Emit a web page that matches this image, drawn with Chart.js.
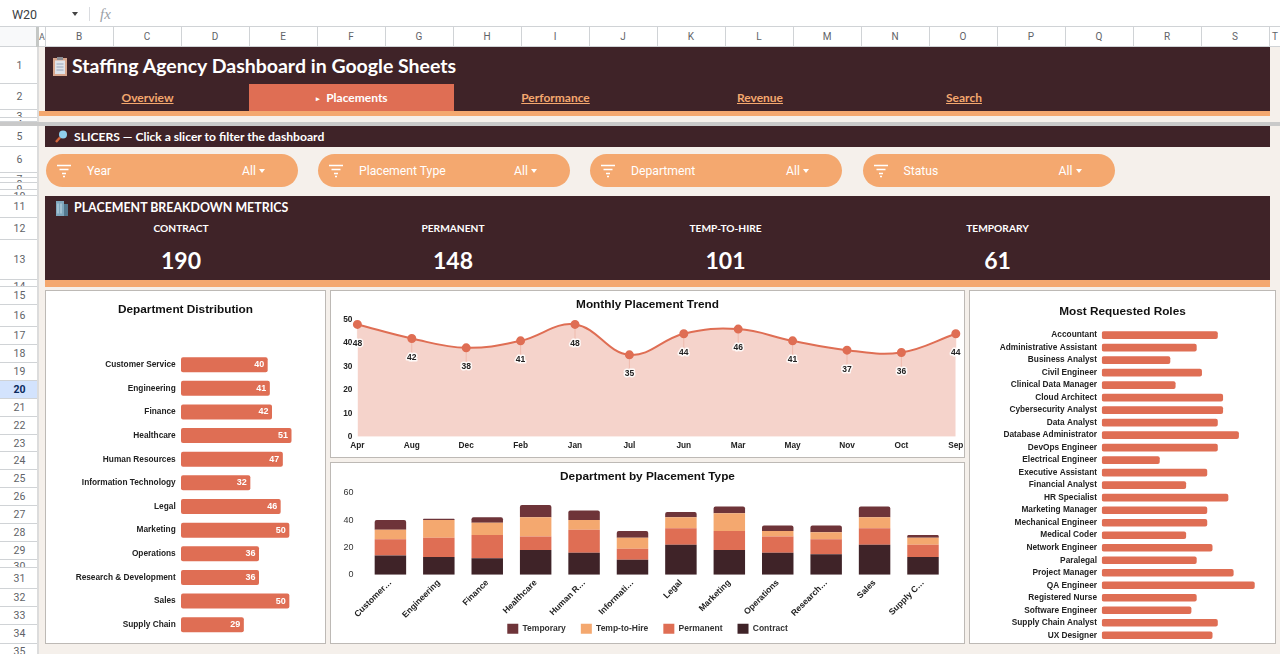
<!DOCTYPE html>
<html><head><meta charset="utf-8">
<script src="https://cdn.jsdelivr.net/npm/chart.js@4"></script>
<style>
html,body{margin:0;padding:0;width:1280px;height:654px;overflow:hidden;background:#f5f0eb;font-family:Lato,Roboto,sans-serif}
.a{position:absolute;box-sizing:border-box}
.t{position:absolute;white-space:nowrap;line-height:1}
.c{transform:translateX(-50%)}
.box{position:absolute;box-sizing:border-box;background:#fff;border:1px solid #bdb9b5}
.box canvas{position:absolute;left:0;top:0}
.rh{position:absolute;left:0;width:39px;box-sizing:border-box;overflow:hidden;text-align:center;font:10.5px Roboto,sans-serif;color:#5f6368;background:#fff;border-bottom:1px solid #d0d3d6}
.ch{position:absolute;top:27px;height:20px;box-sizing:border-box;text-align:center;font:10px/20px Roboto,sans-serif;color:#5f6368;background:#fff;border-right:1px solid #d0d3d6;border-bottom:1px solid #d0d3d6}
.pill{position:absolute;top:154px;height:33px;width:252px;border-radius:17px;background:#f4a86f}
.pill span{position:absolute;top:10px;color:#fff;font:400 12.2px/14px Roboto,sans-serif;white-space:nowrap}
.pill i{position:absolute;top:15px;left:213px;width:0;height:0;border:3.5px solid transparent;border-top:4px solid #fff;border-bottom:0}
.pill svg{position:absolute;left:10px;top:9px}
.lnk{color:#f4a86f;font-weight:700;font-size:12px;text-decoration:underline;font-family:Lato,Roboto,sans-serif}
</style></head><body>
<div id="sheet"></div>
<div class="box" style="left:45px;top:290px;width:281px;height:354px"><canvas id="deptChart"></canvas></div>
<div class="box" style="left:330px;top:290px;width:635px;height:168px"><canvas id="trendChart"></canvas></div>
<div class="box" style="left:330px;top:462px;width:635px;height:182px"><canvas id="stackChart"></canvas></div>
<div class="box" style="left:969px;top:290px;width:307px;height:354px"><canvas id="roleChart"></canvas></div>
<script>
// ---------- data ----------
const departments = ["Customer Service","Engineering","Finance","Healthcare","Human Resources","Information Technology","Legal","Marketing","Operations","Research & Development","Sales","Supply Chain"];
const departmentTotals = [40,41,42,51,47,32,46,50,36,36,50,29];
const months = ["Apr","Aug","Dec","Feb","Jan","Jul","Jun","Mar","May","Nov","Oct","Sep"];
const monthlyPlacements = [48,42,38,41,48,35,44,46,41,37,36,44];
const stackTickLabels = ["Customer…","Engineering","Finance","Healthcare","Human R…","Informati…","Legal","Marketing","Operations","Research…","Sales","Supply C…"];
const contractValues = [14,13,12,18,16,11,22,18,16,15,22,13];
const permanentValues = [12,14,17,10,17,8,12,14,12,11,12,9];
const tempToHireValues = [7,13,9,14,7,8,8,13,4,5,8,5];
const temporaryValues = [7,1,4,9,7,5,4,5,4,5,8,2];
const roles = ["Accountant","Administrative Assistant","Business Analyst","Civil Engineer","Clinical Data Manager","Cloud Architect","Cybersecurity Analyst","Data Analyst","Database Administrator","DevOps Engineer","Electrical Engineer","Executive Assistant","Financial Analyst","HR Specialist","Marketing Manager","Mechanical Engineer","Medical Coder","Network Engineer","Paralegal","Project Manager","QA Engineer","Registered Nurse","Software Engineer","Supply Chain Analyst","UX Designer"];
const roleCounts = [22,18,13,19,14,23,23,22,26,22,11,20,16,24,20,20,16,21,18,25,29,18,17,22,21];
const metricNames = ["CONTRACT","PERMANENT","TEMP-TO-HIRE","TEMPORARY"];
const metricValues = ["190","148","101","61"];
const slicerNames = ["Year","Placement Type","Department","Status"];
const navLinks = ["Overview","Performance","Revenue","Search"];
const columnLetters = "BCDEFGHIJKLMNOPQRS".split("");
const rowSpans = [["1",47,84],["2",84,110],["3",110,118],["4",118,122],["5",126,147],["6",147,173],["7",173,178],["8",178,183],["9",183,190],["10",190,196],["11",196,218],["12",218,240],["13",240,280],["14",280,287],["15",287,304.5],["16",304.5,326.5],["17",326.5,344.5],["18",344.5,362.5],["19",362.5,380.5],["20",380.5,398.5],["21",398.5,416.5],["22",416.5,434.5],["23",434.5,452],["24",452,470],["25",470,488],["26",488,506],["27",506,524],["28",524,542],["29",542,559.5],["30",559.5,568],["31",568,589],["32",589,607],["33",607,625],["34",625,643.5],["35",643.5,660]];

// ---------- colours ----------
const DARK="#3f2328", ORANGE="#f4a86f", CORAL="#df6e54", MAROON="#6e3439";

// ---------- sheet chrome ----------
const sheet=document.getElementById("sheet");
function add(html){sheet.insertAdjacentHTML("beforeend",html);}
add(`<div class="a" style="left:0;top:0;width:1280px;height:27px;background:#fff;border-bottom:1px solid #d0d3d6"></div>`);
add(`<div class="t" style="left:12px;top:7px;font:12.5px Roboto,sans-serif;color:#3c4043">W20</div>`);
add(`<div class="a" style="left:72px;top:12px;width:0;height:0;border:3.5px solid transparent;border-top:4px solid #444;border-bottom:0"></div>`);
add(`<div class="a" style="left:89px;top:7px;width:1px;height:14px;background:#dadce0"></div>`);
add(`<div class="t" style="left:100px;top:6px;font:italic 15px 'Liberation Serif',serif;color:#9aa0a6">fx</div>`);
add(`<div class="a" style="left:0;top:27px;width:39px;height:20px;background:#f8f9fa;border-bottom:1px solid #d0d3d6"></div>`);
add(`<div class="a" style="left:36px;top:27px;width:3px;height:20px;background:#c4c7c5"></div>`);
add(`<div class="ch" style="left:39px;width:6.5px;overflow:hidden;font-size:9px">A</div>`);
columnLetters.forEach((L,i)=>add(`<div class="ch" style="left:${45.5+i*68}px;width:68px">${L}</div>`));
add(`<div class="ch" style="left:1269.5px;width:11px;border-right:0">T</div>`);
rowSpans.forEach(([n,a,b])=>{
  const on=n==="20";
  add(`<div class="rh" style="top:${a}px;height:${b-a}px;line-height:${Math.max(b-a,14)}px;${on?"background:#d3e3fd;color:#0b2a5e;font-weight:700;":""}">${n}</div>`);
});
add(`<div class="a" style="left:36.5px;top:47px;width:2.5px;height:607px;background:#dcdcdc"></div>`);
add(`<div class="a" style="left:0;top:122px;width:1280px;height:4px;background:#c9c9c9"></div>`);

// bands
add(`<div class="a" style="left:45px;top:47px;width:1224.5px;height:63.5px;background:${DARK}"></div>`);
add(`<div class="a" style="left:39px;top:110.5px;width:1230.5px;height:5.5px;background:${ORANGE}"></div>`);
add(`<div class="a" style="left:249px;top:83.5px;width:204.5px;height:27px;background:${CORAL}"></div>`);
add(`<div class="a" style="left:45px;top:126px;width:1224.5px;height:21px;background:${DARK}"></div>`);
add(`<div class="a" style="left:45px;top:196px;width:1224.5px;height:84px;background:${DARK}"></div>`);
add(`<div class="a" style="left:45px;top:280px;width:1224.5px;height:6.5px;background:${ORANGE}"></div>`);

// icons
add(`<svg class="a" style="left:52px;top:57px" width="16" height="19"><rect x="1" y="1" width="14" height="18" fill="#d9a78e"/><rect x="3" y="3.5" width="10" height="13.5" fill="#dfe3ea"/><rect x="5" y="0" width="6" height="3" fill="#8b8d94"/><path d="M4.5 7h7M4.5 10h7M4.5 13h7" stroke="#9aa7bd" stroke-width="1"/></svg>`);
add(`<svg class="a" style="left:54px;top:129px" width="14" height="15"><circle cx="9" cy="5.5" r="4" fill="#8fd0ee"/><path d="M6 8.5L2 13" stroke="#d4663c" stroke-width="2.4"/></svg>`);
add(`<svg class="a" style="left:55px;top:201px" width="14" height="15"><rect x="1" y="0" width="8" height="15" fill="#7fa7bd"/><rect x="9" y="3" width="4" height="12" fill="#54798f"/><path d="M3 2.5v10M6 2.5v10" stroke="#c6dbe6" stroke-width="1"/></svg>`);

// title and tabs
add(`<div class="t" style="left:72px;top:54px;font:700 19.5px Lato,sans-serif;color:#fff">Staffing Agency Dashboard in Google Sheets</div>`);
[147.5,555.5,760,964].forEach((x,i)=>add(`<div class="t c lnk" style="left:${x}px;top:91.5px">${navLinks[i]}</div>`));
add(`<div class="t c" style="left:352px;top:90px;font:700 12px Lato,sans-serif;color:#fff"><span style="font-size:7px;vertical-align:1.5px">▸</span>&nbsp; Placements</div>`);
add(`<div class="t" style="left:74px;top:128.5px;font:700 12.1px Lato,sans-serif;color:#fff">SLICERS — Click a slicer to filter the dashboard</div>`);
[46,318,590,862.5].forEach((x,i)=>add(`<div class="pill" style="left:${x}px"><svg width="16" height="15"><path d="M1 2.5h14M3.5 6.5h9M6 10.5h4M7 13.5h2" stroke="#fff" stroke-width="1.6"/></svg><span style="left:41px">${slicerNames[i]}</span><span style="left:196px">All</span><i></i></div>`));
add(`<div class="t" style="left:74px;top:199.5px;font:700 12.4px Lato,sans-serif;color:#fff">PLACEMENT BREAKDOWN METRICS</div>`);
[181,453,725.5,997.5].forEach((x,i)=>{
  add(`<div class="t c" style="left:${x}px;top:222px;font:700 10.2px Lato,sans-serif;color:#fff">${metricNames[i]}</div>`);
  add(`<div class="t c" style="left:${x}px;top:246px;font:700 23px Lato,sans-serif;color:#fff">${metricValues[i]}</div>`);
});

// ---------- charts ----------
Chart.defaults.font.family='"Liberation Sans",Arial,sans-serif';
Chart.defaults.animation=false;
Chart.defaults.responsive=false;
const axisFont={size:8.3,weight:"bold"};
const noGrid={display:false,drawTicks:false};
function sized(id,w,h){const c=document.getElementById(id);c.width=w;c.height=h;c.style.width=w+"px";c.style.height=h+"px";return c;}
// fixes an axis to a given thickness and lets its labels run past that box
function fixAxis(prop,size){return s=>{s[prop]=size;s.paddingTop=0;s.paddingBottom=0;s.paddingLeft=0;s.paddingRight=0;s._computeLabelArea=()=>undefined;};}

const barValueLabels={id:"barValueLabels",afterDatasetsDraw(chart){
  const ctx=chart.ctx,meta=chart.getDatasetMeta(0);
  ctx.save();ctx.font='bold 9px "Liberation Sans"';ctx.fillStyle="#fff";ctx.textAlign="right";ctx.textBaseline="middle";
  meta.data.forEach((el,i)=>ctx.fillText(chart.data.datasets[0].data[i],el.x-3.5,el.y));
  ctx.restore();
}};
const pointValueLabels={id:"pointValueLabels",afterDatasetsDraw(chart){
  const ctx=chart.ctx,meta=chart.getDatasetMeta(0);
  ctx.save();ctx.font='bold 8.5px "Liberation Sans"';ctx.textAlign="center";ctx.textBaseline="middle";ctx.lineJoin="round";
  meta.data.forEach((el,i)=>{
    ctx.strokeStyle="rgba(223,110,84,.35)";ctx.lineWidth=.7;ctx.beginPath();ctx.moveTo(el.x,el.y+4);ctx.lineTo(el.x,el.y+14);ctx.stroke();
    ctx.strokeStyle="rgba(255,255,255,.85)";ctx.lineWidth=3;ctx.strokeText(chart.data.datasets[0].data[i],el.x,el.y+19);
    ctx.fillStyle="#222";ctx.fillText(chart.data.datasets[0].data[i],el.x,el.y+19);
  });
  ctx.restore();
}};
function titleOpt(text,top,bottom){return {display:true,text,color:"#111",font:{size:11.8,weight:"bold"},padding:{top,bottom}};}

function hbar(id,w,h,title,labels,values,maxV,yWidth,side,bottom,tickPad,tTop,tBottom,barPct,plugins){
  return new Chart(sized(id,w,h),{type:"bar",
    data:{labels,datasets:[{data:values,backgroundColor:CORAL,borderRadius:2,borderSkipped:false,barPercentage:barPct,categoryPercentage:1}]},
    options:{indexAxis:"y",layout:{padding:{left:side,right:side,top:0,bottom}},
      plugins:{legend:{display:false},tooltip:{enabled:false},title:titleOpt(title,tTop,tBottom)},
      scales:{
        x:{display:false,min:0,max:maxV},
        y:{afterFit:fixAxis("width",yWidth),grid:noGrid,border:{display:false},
           ticks:{autoSkip:false,color:"#222",font:axisFont,padding:tickPad}}
      }},plugins});
}
// Department Distribution
hbar("deptChart",279,352,"Department Distribution",departments,departmentTotals,60,121,14,6.5,5.3,12,35.7,.635,[barValueLabels]);
// Most Requested Roles
hbar("roleChart",305,352,"Most Requested Roles",roles,roleCounts,30,116.7,15,1.5,4.7,13.8,9.9,.61,[]);

// Monthly Placement Trend
new Chart(sized("trendChart",633,166),{type:"line",
  data:{labels:months,datasets:[{data:monthlyPlacements,borderColor:CORAL,borderWidth:2,backgroundColor:"rgba(223,110,84,.3)",fill:true,tension:.4,pointBackgroundColor:CORAL,pointBorderColor:CORAL,pointRadius:3.5,clip:false}]},
  options:{layout:{padding:{left:8.2,right:8.2,top:0,bottom:0}},
    plugins:{legend:{display:false},tooltip:{enabled:false},title:titleOpt("Monthly Placement Trend",7,7.6)},
    scales:{
      x:{offset:false,grid:noGrid,border:{display:false},afterFit:fixAxis("height",20.3),ticks:{autoSkip:false,maxRotation:0,color:"#222",font:axisFont,padding:4}},
      y:{min:0,max:50,afterFit:fixAxis("width",18.2),grid:noGrid,border:{display:false},ticks:{stepSize:10,color:"#222",font:axisFont,padding:5}}
    }},plugins:[pointValueLabels]});

// Department by Placement Type
const stackSets=[["Contract",contractValues,DARK],["Permanent",permanentValues,CORAL],["Temp-to-Hire",tempToHireValues,ORANGE],["Temporary",temporaryValues,MAROON]];
new Chart(sized("stackChart",633,180),{type:"bar",
  data:{labels:departments,datasets:stackSets.map(([label,data,color],i)=>({label,data,backgroundColor:color,stack:"s",barPercentage:.65,categoryPercentage:1,borderRadius:i===3?{topLeft:2,topRight:2}:0,borderSkipped:false}))},
  options:{layout:{padding:{left:16.8,right:16.8,top:0,bottom:-0.7}},
    plugins:{tooltip:{enabled:false},title:titleOpt("Department by Placement Type",7.1,8.5),
      legend:{position:"bottom",reverse:true,labels:{boxWidth:11,boxHeight:10,padding:15,color:"#333",font:{size:8.5,weight:"bold"}}}},
    scales:{
      x:{stacked:true,grid:noGrid,border:{display:false},afterFit:fixAxis("height",34),
         ticks:{autoSkip:false,minRotation:45,maxRotation:45,color:"#222",font:{size:8.6,weight:"bold"},padding:3,callback:(v,i)=>stackTickLabels[i]}},
      y:{stacked:true,min:0,max:60,afterFit:fixAxis("width",18.4),grid:noGrid,border:{display:false},ticks:{stepSize:20,color:"#333",font:{size:9},padding:12.8}}
    }}});
</script>
</body></html>
